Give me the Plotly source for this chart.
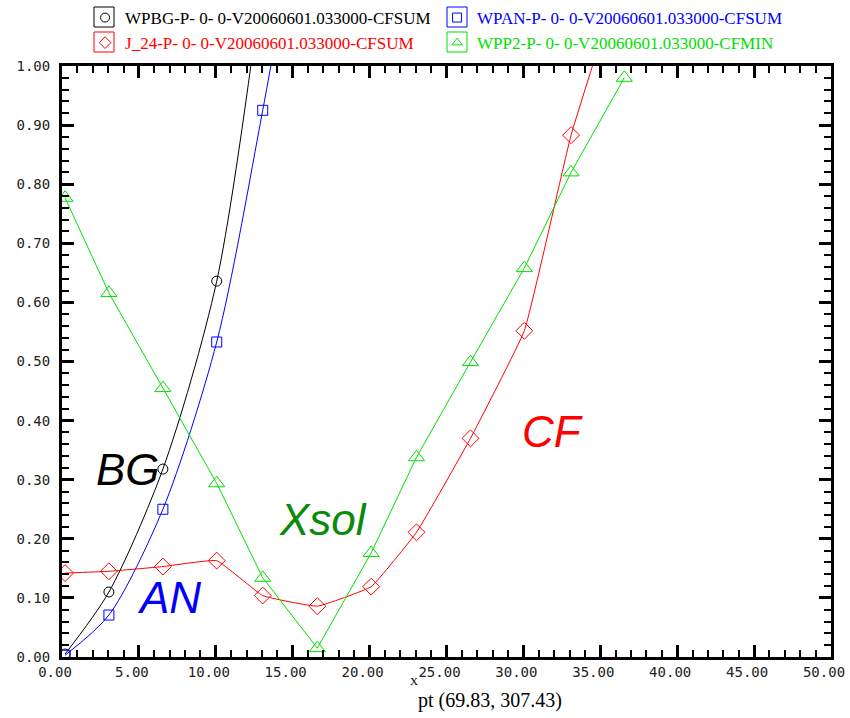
import plotly.graph_objects as go

# Sample positions shared by all four series
x_pts = [0.2, 3.05, 6.56, 10.06, 13.05, 16.6, 20.1, 23.05, 26.56, 30.06, 33.1, 36.56]

# Series values (points above 1.0 run off the top of the frame)
wpbg = [0.005, 0.110, 0.318, 0.636, 1.15]
wpan = [0.003, 0.071, 0.250, 0.533, 0.925, 1.45]
j24 = [0.142, 0.145, 0.153, 0.163, 0.104, 0.086, 0.119, 0.211, 0.370, 0.552, 0.883, 1.17]
wpp2 = [0.777, 0.616, 0.455, 0.294, 0.134, 0.015, 0.176, 0.338, 0.499, 0.658, 0.820, 0.980]

names = [
    "WPBG-P- 0- 0-V20060601.033000-CFSUM",
    "WPAN-P- 0- 0-V20060601.033000-CFSUM",
    "J_24-P- 0- 0-V20060601.033000-CFSUM",
    "WPP2-P- 0- 0-V20060601.033000-CFMIN",
]
colors = ["#000000", "#0000ff", "#ff0000", "#00e000"]
symbols = ["circle-open", "square-open", "diamond-open", "triangle-up-open"]
msizes = [10, 10, 13, 14]
series = [wpbg, wpan, j24, wpp2]
shapes_line = [("spline", 0.8), ("spline", 0.8), ("spline", 0.3), ("linear", 0)]

# Region labels
region_text = ["BG", "AN", "Xsol", "CF"]
region_x = [4.3, 6.95, 17.0, 31.9]
region_y = [0.318, 0.1015, 0.232, 0.381]
region_col = ["#000000", "#0000ff", "#0a8a0a", "#ff0000"]

fig = go.Figure()

for ys, c, sym, ms, (shp, sm) in zip(series, colors, symbols, msizes, shapes_line):
    line = dict(color=c, width=1, shape=shp)
    if shp == "spline":
        line["smoothing"] = sm
    fig.add_trace(go.Scatter(
        x=x_pts[:len(ys)], y=ys, mode="lines+markers",
        line=line,
        marker=dict(symbol=sym, size=ms, color=c, line=dict(color=c, width=1)),
        showlegend=False, cliponaxis=True,
    ))

# Legend entries (marker only), laid out two per row
for nm, c, sym in zip(names, colors, symbols):
    fig.add_trace(go.Scatter(
        x=[None], y=[None], mode="markers",
        marker=dict(symbol=sym, size=9, color=c, line=dict(color=c, width=1)),
        name=f'<span style="color:{c}">{nm}</span>',
        showlegend=True,
    ))

# Frames drawn round each legend symbol
PLOT_L, PLOT_W, PLOT_B, PLOT_H = 62, 769, 657, 591
for cx, cy, c in [(104, 17, colors[0]), (457, 17, colors[1]),
                  (104, 42, colors[2]), (457, 42, colors[3])]:
    fig.add_shape(
        type="rect", xref="paper", yref="paper",
        x0=(cx - 10 - PLOT_L) / PLOT_W, x1=(cx + 10 - PLOT_L) / PLOT_W,
        y0=(PLOT_B - cy - 10) / PLOT_H, y1=(PLOT_B - cy + 10) / PLOT_H,
        line=dict(color=c, width=1), fillcolor="rgba(0,0,0,0)",
    )

for t, xx, yy, c in zip(region_text, region_x, region_y, region_col):
    fig.add_annotation(
        x=xx, y=yy, xref="x", yref="y", text=f"<i>{t}</i>", showarrow=False,
        font=dict(family="Liberation Sans, Arial, sans-serif", size=44, color=c),
        xanchor="center", yanchor="middle",
    )

# Axis caption under the x axis
fig.add_annotation(
    x=0.4577, y=-0.0406, xref="paper", yref="paper", text="X", showarrow=False,
    font=dict(family="Liberation Serif, serif", size=11, color="#000000"),
    xanchor="center", yanchor="middle", borderpad=0,
)
fig.add_annotation(
    x=0.462, y=-0.0735, xref="paper", yref="paper", text="pt (69.83, 307.43)",
    showarrow=False,
    font=dict(family="Liberation Serif, serif", size=20, color="#000000"),
    xanchor="left", yanchor="middle", borderpad=0,
)

axis_common = dict(
    showline=True, linecolor="#000000", linewidth=3, mirror="ticks",
    ticks="inside", ticklen=12, tickwidth=3, tickcolor="#000000",
    showgrid=False, zeroline=False,
    tickfont=dict(family="DejaVu Sans Mono, monospace", size=14, color="#222222"),
)

x_ticks = [0, 5, 10, 15, 20, 25, 30, 35, 40, 45, 50]
fig.update_xaxes(
    range=[0, 50], tickvals=x_ticks,
    ticktext=[f"{v:.2f}" for v in x_ticks],
    minor=dict(dtick=1, ticks="inside", ticklen=7, tickwidth=2, tickcolor="#000000"),
    ticklabelshift=-7, ticklabeloverflow="allow",
    **axis_common,
)
fig.update_yaxes(
    range=[0, 1], tickvals=[i / 10 for i in range(11)],
    ticktext=[f"{i / 10:.2f}" for i in range(11)],
    minor=dict(dtick=0.02, ticks="inside", ticklen=7, tickwidth=2, tickcolor="#000000"),
    ticklabelstandoff=6,
    **axis_common,
)

fig.update_layout(
    width=850, height=718,
    margin=dict(l=62, r=19, t=66, b=61, autoexpand=False),
    paper_bgcolor="#ffffff", plot_bgcolor="#ffffff",
    legend=dict(
        orientation="h", x=0.03, y=1.0, xanchor="left", yanchor="top",
        yref="container",
        entrywidth=307, entrywidthmode="pixels",
        font=dict(family="Liberation Serif, serif", size=17, color="#000000"),
        bgcolor="rgba(0,0,0,0)", tracegroupgap=0,
    ),
)

fig.write_html("out.html")
